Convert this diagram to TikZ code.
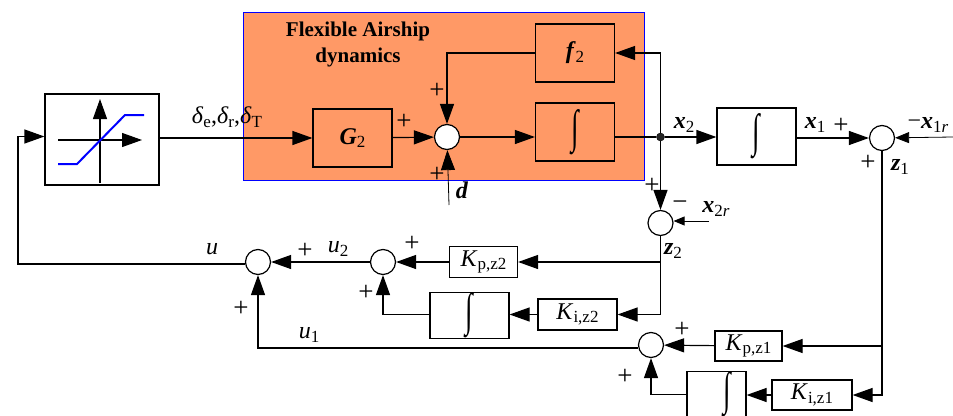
\documentclass[tikz,border=0pt]{standalone}
\usepackage{fontspec}
\setmainfont{Liberation Serif}
\usepackage{amsmath}
\usetikzlibrary{calc,arrows.meta}

\definecolor{airship}{RGB}{255,153,102}
\newcommand{\bvar}[1]{\textbf{\textit{#1}}}
\newcommand{\sbs}[1]{\raisebox{-3.5pt}{\fontsize{17}{17}\selectfont #1}}
\newcommand{\intsym}{\resizebox{7.5pt}{33pt}{∫}}
\tikzset{
  blk/.style={draw, line width=1.2pt, inner sep=0pt, font=\fontsize{24}{26}\selectfont},
  sumnode/.style={draw, circle, fill=white, line width=1.2pt, minimum size=25pt, inner sep=0pt},
  lbl/.style={inner sep=0pt, font=\fontsize{24}{26}\selectfont},
  sgn/.style={inner sep=0pt, font=\fontsize{27}{27}\selectfont},
  arw/.style={line width=1.2pt, -{Triangle[length=20pt,width=14pt]}},
  lin/.style={line width=1.2pt},
}

\begin{document}
\begin{tikzpicture}[x=1pt,y=-1pt]
\useasboundingbox (0,0) rectangle (953,415);

% plant
\fill[airship] (243,12) rectangle (644,180);
\draw[blue] (243,12) rectangle (644,180);
\node[inner sep=0pt, font=\fontsize{21}{21}\bfseries] (title1) at (358,31) {Flexible Airship};
\node[inner sep=0pt, font=\fontsize{21}{21}\bfseries] (title2) at (358,57) {dynamics};

% blocks
\node[blk, minimum width=114pt, minimum height=91pt, fill=white] (sat) at (102,139.5) {};
\node[blk, minimum width=79pt, minimum height=58pt] (G) at (352.5,138) {\bvar{G}\sbs{2}};
\node[blk, minimum width=79pt, minimum height=58pt] (f) at (575,53) {\bvar{f}\sbs{2}};
\node[blk, minimum width=79pt, minimum height=58pt] (intA) at (575,132) {\intsym};
\node[blk, minimum width=79pt, minimum height=57pt] (intB) at (756.5,136.5) {\intsym};
\node[blk, minimum width=68pt, minimum height=31pt] (Kpb) at (483.5,262) {\textit{K}\sbs{p,z2}};
\node[blk, minimum width=79pt, minimum height=45pt] (intC) at (469.5,315.5) {\intsym};
\node[blk, minimum width=79pt, minimum height=31pt] (Kib) at (577.5,314.5) {\textit{K}\sbs{i,z2}};
\node[blk, minimum width=67pt, minimum height=30pt] (Kpa) at (748.5,346) {\textit{K}\sbs{p,z1}};
\node[blk, minimum width=59pt, minimum height=39pt] (intD) at (716.5,394.5) {\hspace{21pt}\intsym};
\node[blk, minimum width=80pt, minimum height=30pt] (Kia) at (812,395) {\textit{K}\sbs{i,z1}};

% summing points
\node[sumnode] (sumA) at (447,137) {};
\node[sumnode] (sumB) at (882,138) {};
\node[sumnode] (sumC) at (660.5,223) {};
\node[sumnode] (sumU) at (258,262) {};
\node[sumnode] (sumV) at (383,262) {};
\node[sumnode] (sumW) at (651,345) {};
\node[circle, fill=black!85, draw=black, minimum size=8pt, inner sep=0pt] (dot) at (660.5,137) {};

% free ends
\coordinate (dIn) at (449,205);
\coordinate (xtwoIn) at (709,221);
\coordinate (xoneIn) at (953,137);
\coordinate (fb) at (18,264);

% saturation
\draw[arw] (58,140) -- (142,140);
\draw[arw] (100,183) -- (100,99);
\draw[blue, line width=2pt] (58,164) -- (77,164) -- (125,115) -- (144,115);

% forward path
\draw[arw] (sat.east |- G.west) -- (G);
\draw[arw] (G) -- (sumA);
\draw[arw] (sumA) -- (intA.west |- sumA);
\draw[lin] (intA.east |- dot) -- (dot);
\draw[arw] (dot) -- (intB.west |- dot);
\draw[arw] (intB.east |- sumB) -- (sumB);
\draw[arw] (dot) |- (f);
\draw[arw] (f) -| (sumA);
\draw[arw] (dot) -- (sumC);
\draw[arw, line width=0.8pt] (dIn) -- (sumA);
\draw[line width=0.8pt, -{Triangle[length=11pt,width=9pt]}] (xtwoIn) -- (sumC.east |- xtwoIn);
\draw[line width=0.8pt, -{Triangle[length=14pt,width=11pt]}] (xoneIn) -- (sumB);

% feedback paths
\draw[lin] (sumC) -- (sumC |- Kib);
\draw[arw] (sumC |- Kpb) -- (Kpb);
\draw[arw] (sumC) |- (Kib);
\draw[arw] (Kib) -- (intC.east |- Kib);
\draw[arw] (Kpb) -- (sumV);
\draw[arw] (intC.west |- Kib) -| (sumV);
\draw[arw] (sumV) -- (sumU);
\draw[lin, black!80] (sumB) -- (sumB |- Kia);
\draw[arw] (sumB |- Kpa) -- (Kpa);
\draw[arw] (sumB) |- (Kia);
\draw[arw] (Kia) -- (intD.east |- Kia);
\draw[arw] (Kpa) -- (sumW);
\draw[arw] (intD) -| (sumW);
\draw[arw] ([yshift=-3pt]sumW.west) -| (sumU);
\draw[arw] ([yshift=-2pt]sumU.west) -- (fb) |- ([yshift=3pt]sat.west);

% labels
\node[lbl] (delta) at (227,117) {\textit{δ}\sbs{e},\textit{δ}\sbs{r},\textit{δ}\sbs{T}};
\node[lbl] (dLbl) at (462,190) {\bvar{d}};
\node[lbl] (xtwo) at (684,125) {\bvar{x}\sbs{2}};
\node[lbl] (xone) at (815,125) {\bvar{x}\sbs{1}};
\node[lbl] (xoneR) at (928,125) {−\bvar{x}\sbs{1\textit{r}}};
\node[lbl] (xtwoR) at (716,209) {\bvar{x}\sbs{2\textit{r}}};
\node[lbl] (zone) at (900,167) {\bvar{z}\sbs{1}};
\node[lbl] (ztwo) at (673,251) {\bvar{z}\sbs{2}};
\node[lbl] (uLbl) at (212,249) {\textit{u}};
\node[lbl] (uTwo) at (338,249) {\textit{u}\sbs{2}};
\node[lbl] (uOne) at (309,335) {\textit{u}\sbs{1}};

% signs
\node[sgn] (p1) at (404,122) {+};
\node[sgn] (p2) at (437,91) {+};
\node[sgn] (p3) at (437,175) {+};
\node[sgn] (p4) at (841,126) {+};
\node[sgn] (p5) at (868,163) {+};
\node[sgn] (p6) at (652,186) {+};
\node[sgn] (m1) at (680,206) {−};
\node[sgn] (p7) at (305,251) {+};
\node[sgn] (p8) at (412,244) {+};
\node[sgn] (p9) at (366,293) {+};
\node[sgn] (p10) at (241,309) {+};
\node[sgn] (p11) at (682,330) {+};
\node[sgn] (p12) at (625,377) {+};
\end{tikzpicture}
\end{document}
